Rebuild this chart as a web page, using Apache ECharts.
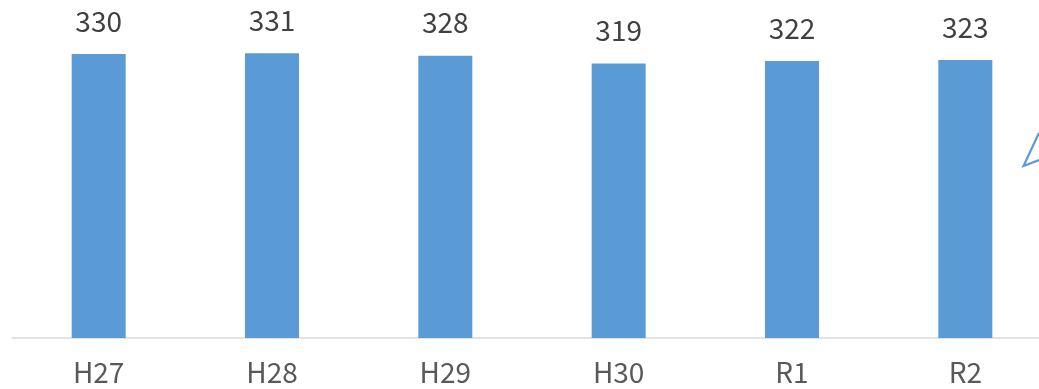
<!DOCTYPE html>
<html>
<head>
<meta charset="utf-8">
<script src="https://cdn.jsdelivr.net/npm/echarts@6/dist/echarts.min.js"></script>
<style>
  html, body { margin: 0; padding: 0; background: #fff; }
  #chart { width: 1039px; height: 389px; }
</style>
</head>
<body>
<div id="chart"></div>
<script>
// Yearly totals by fiscal year
const categories = ['H27', 'H28', 'H29', 'H30', 'R1', 'R2'];
const values = [330, 331, 328, 319, 322, 323];

const FONT = '"Noto Sans CJK JP", "Noto Sans", sans-serif';
const chart = echarts.init(document.getElementById('chart'), null, { renderer: 'canvas' });

chart.setOption({
  animation: false,
  backgroundColor: '#ffffff',
  grid: {
    left: 12, top: 36.8, width: 1040, height: 301.2,
    containLabel: false, outerBoundsMode: 'none'
  },
  xAxis: {
    type: 'category',
    data: categories,
    axisLine: { lineStyle: { color: '#d9d9d9', width: 1.5 } },
    axisTick: { show: false },
    axisLabel: { color: '#595959', fontSize: 28, fontFamily: FONT, margin: 20 }
  },
  yAxis: {
    type: 'value',
    min: 0,
    max: 350,
    show: false,
    splitLine: { show: false }
  },
  series: [{
    type: 'bar',
    data: values,
    barWidth: 54,
    itemStyle: { color: '#5b9bd5' },
    label: {
      show: true,
      position: 'top',
      distance: 19,
      color: '#404040',
      fontSize: 28,
      fontFamily: FONT
    }
  }],
  graphic: [{
    type: 'polyline',
    shape: { points: [[1039, 133], [1023.5, 166], [1039, 160]] },
    style: { stroke: '#5b9bd5', lineWidth: 2.2, fill: null }
  }]
});
</script>
</body>
</html>
